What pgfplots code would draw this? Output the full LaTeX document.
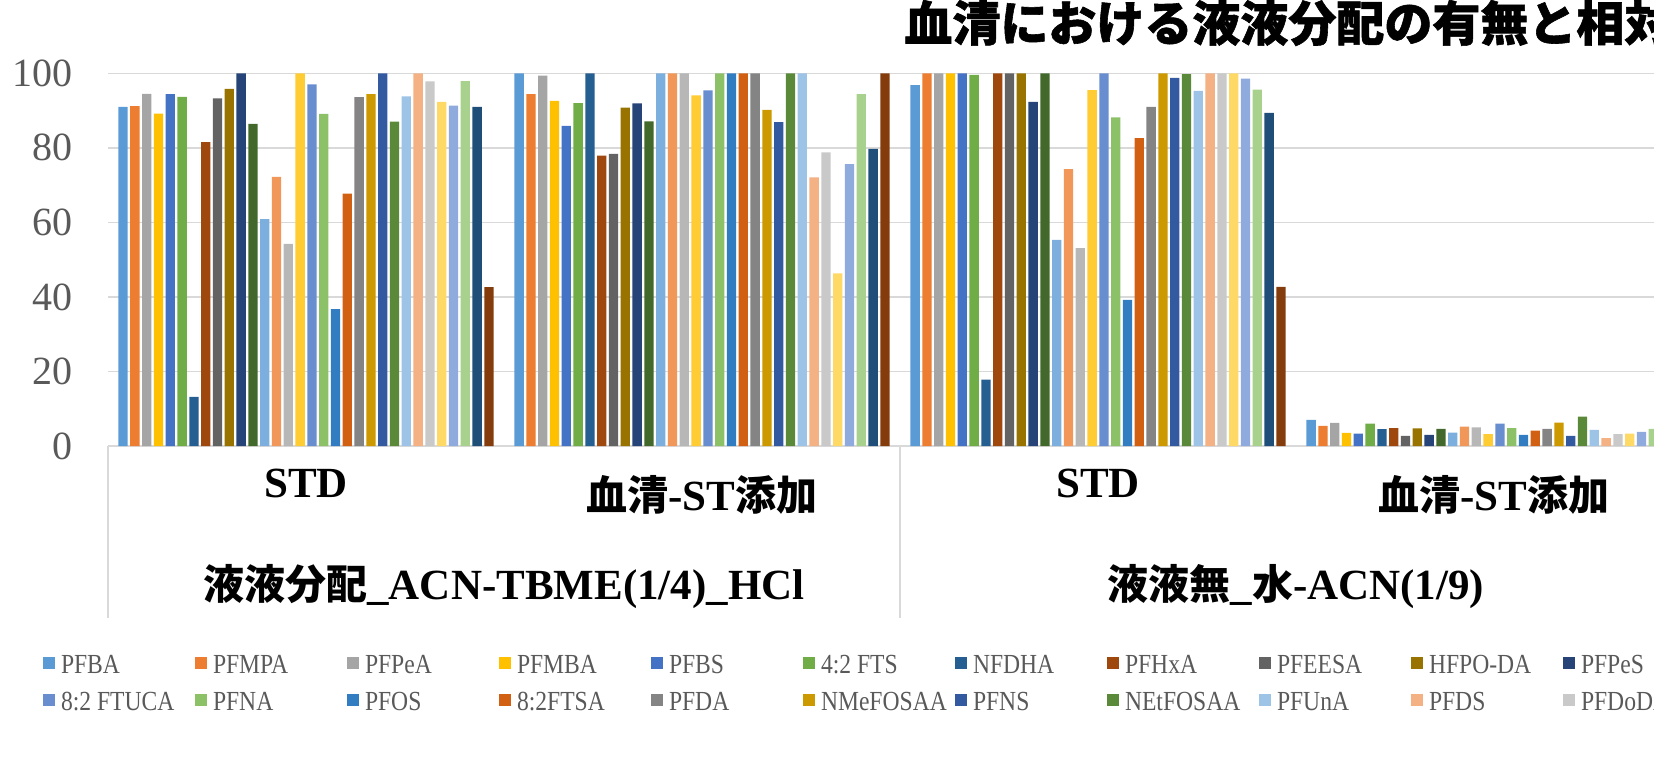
\documentclass[border=0pt]{standalone}
\usepackage{fontspec}
\setmainfont{Liberation Serif}
\newfontfamily\cjk{Noto Sans CJK JP}
\newfontfamily\cjktitle{Noto Sans CJK JP}[BoldFeatures={FakeBold=1.2}]
\newfontfamily\legfont{Liberation Serif}[FakeStretch=0.855]
\usepackage{pgfplots}
\pgfplotsset{compat=1.18}

\definecolor{c1}{HTML}{5B9BD5}\definecolor{c2}{HTML}{ED7D31}
\definecolor{c3}{HTML}{A5A5A5}\definecolor{c4}{HTML}{FFC000}
\definecolor{c5}{HTML}{4472C4}\definecolor{c6}{HTML}{70AD47}
\definecolor{c7}{HTML}{255E91}\definecolor{c8}{HTML}{9E480E}
\definecolor{c9}{HTML}{636363}\definecolor{c10}{HTML}{997300}
\definecolor{c11}{HTML}{264478}\definecolor{c12}{HTML}{43682B}
\definecolor{c13}{HTML}{7CAFDD}\definecolor{c14}{HTML}{F1975A}
\definecolor{c15}{HTML}{B7B7B7}\definecolor{c16}{HTML}{FFCD33}
\definecolor{c17}{HTML}{698ED0}\definecolor{c18}{HTML}{8CC168}
\definecolor{c19}{HTML}{327DC2}\definecolor{c20}{HTML}{D26012}
\definecolor{c21}{HTML}{848484}\definecolor{c22}{HTML}{CC9A00}
\definecolor{c23}{HTML}{335AA1}\definecolor{c24}{HTML}{5A8A39}
\definecolor{c25}{HTML}{9DC3E6}\definecolor{c26}{HTML}{F4B183}
\definecolor{c27}{HTML}{C9C9C9}\definecolor{c28}{HTML}{FFD966}
\definecolor{c29}{HTML}{8FAADC}\definecolor{c30}{HTML}{A9D18E}
\definecolor{c31}{HTML}{1F4E79}\definecolor{c32}{HTML}{843C0C}
\definecolor{axgray}{HTML}{D9D9D9}
\definecolor{txtgray}{HTML}{595959}

% japanese parts of the labels
\newcommand{\jp}[1]{{\fontsize{20.5bp}{24bp}\selectfont\cjk\bfseries #1}}
% fixed width legend cells
\newcommand{\lgc}[1]{\makebox[60bp][l]{#1}}

\begin{document}
\begin{tikzpicture}
\useasboundingbox (0,0) rectangle (827bp,382bp);
\clip (0,0) rectangle (827bp,382bp);

\node[anchor=west, inner sep=0pt, font=\fontsize{24bp}{28bp}\selectfont\cjktitle\bfseries]
  at (452bp,370.5bp) {血清における液液分配の有無と相対回収率};

\begin{axis}[
    at={(54bp,159bp)}, anchor=south west,
    scale only axis, width=792bp, height=186.35bp,
    ybar=1.25bp, bar width=4.65bp,
    xmin=-0.5, xmax=3.5, ymin=0, ymax=100,
    xtick={0,1,2,3},
    xticklabels={STD, \raisebox{-6.5bp}{\jp{血清}-ST\jp{添加}}, STD, \raisebox{-6.5bp}{\jp{血清}-ST\jp{添加}}},
    ytick={0,20,...,100},
    axis x line*=bottom, axis y line*=left,
    x axis line style={draw=axgray, line width=0.75bp, -},
    y axis line style={draw=none},
    ymajorgrids, major grid style={draw=axgray, line width=0.75bp},
    major tick length=0pt,
    extra x ticks={-0.5,1.5}, extra x tick labels={},
    extra x tick style={tick align=outside, major tick length=86bp,
        tick style={draw=axgray, line width=0.75bp}, grid=none},
    /pgf/number format/assume math mode=true,
    yticklabel style={anchor=east, inner sep=0pt, xshift=-17.5bp,
        font=\fontsize{20bp}{24bp}\selectfont, text=txtgray},
    xticklabel style={anchor=base, inner sep=0pt, yshift=-25.5bp,
        font=\bfseries\fontsize{21.5bp}{24bp}\selectfont, text=black},
    every axis plot/.append style={draw=none},
    legend image code/.code={\draw[#1, draw=none] (0bp,-3bp) rectangle (6bp,3bp);},
    legend columns=16,
    legend style={at={(-0.041035,-0.53126)}, anchor=north west,
        draw=none, fill=none, inner sep=0pt, outer sep=0pt,
        column sep=0pt, row sep=0pt,
        /tikz/every even column/.append style={column sep=4bp},
        cells={anchor=west},
        nodes={inner xsep=3bp, inner ysep=0pt, text height=14.65bp, text depth=3.85bp,
            font=\legfont\fontsize{13.8bp}{16bp}\selectfont, text=txtgray}},
    clip=false,
]
\addplot[fill=c1]  coordinates {(0,91.0) (1,100)  (2,96.8) (3,7.0)};
\addplot[fill=c2]  coordinates {(0,91.2) (1,94.4) (2,100)  (3,5.4)};
\addplot[fill=c3]  coordinates {(0,94.5) (1,99.4) (2,100)  (3,6.2)};
\addplot[fill=c4]  coordinates {(0,89.2) (1,92.6) (2,100)  (3,3.5)};
\addplot[fill=c5]  coordinates {(0,94.4) (1,85.9) (2,100)  (3,3.3)};
\addplot[fill=c6]  coordinates {(0,93.7) (1,92.0) (2,99.6) (3,6.0)};
\addplot[fill=c7]  coordinates {(0,13.2) (1,100)  (2,17.8) (3,4.5)};
\addplot[fill=c8]  coordinates {(0,81.5) (1,77.9) (2,100)  (3,4.8)};
\addplot[fill=c9]  coordinates {(0,93.3) (1,78.4) (2,100)  (3,2.7)};
\addplot[fill=c10] coordinates {(0,95.8) (1,90.8) (2,100)  (3,4.7)};
\addplot[fill=c11] coordinates {(0,100)  (1,91.9) (2,92.3) (3,3.0)};
\addplot[fill=c12] coordinates {(0,86.4) (1,87.1) (2,100)  (3,4.6)};
\addplot[fill=c13] coordinates {(0,60.9) (1,100)  (2,55.3) (3,3.6)};
\addplot[fill=c14] coordinates {(0,72.2) (1,100)  (2,74.3) (3,5.2)};
\addplot[fill=c15] coordinates {(0,54.2) (1,100)  (2,53.1) (3,5.0)};
\addplot[fill=c16] coordinates {(0,100)  (1,94.1) (2,95.5) (3,3.2)};
\addplot[fill=c17] coordinates {(0,97.0) (1,95.4) (2,100)  (3,6.0)};
\addplot[fill=c18] coordinates {(0,89.1) (1,100)  (2,88.2) (3,4.8)};
\addplot[fill=c19] coordinates {(0,36.7) (1,100)  (2,39.2) (3,3.0)};
\addplot[fill=c20] coordinates {(0,67.7) (1,100)  (2,82.6) (3,4.1)};
\addplot[fill=c21] coordinates {(0,93.6) (1,100)  (2,91.0) (3,4.6)};
\addplot[fill=c22] coordinates {(0,94.4) (1,90.2) (2,100)  (3,6.3)};
\addplot[fill=c23] coordinates {(0,100)  (1,86.9) (2,98.8) (3,2.7)};
\addplot[fill=c24] coordinates {(0,87.0) (1,100)  (2,99.8) (3,7.9)};
\addplot[fill=c25] coordinates {(0,93.8) (1,100)  (2,95.3) (3,4.3)};
\addplot[fill=c26] coordinates {(0,100)  (1,72.1) (2,100)  (3,2.1)};
\addplot[fill=c27] coordinates {(0,97.8) (1,78.8) (2,100)  (3,3.2)};
\addplot[fill=c28] coordinates {(0,92.3) (1,46.3) (2,100)  (3,3.3)};
\addplot[fill=c29] coordinates {(0,91.3) (1,75.6) (2,98.6) (3,3.8)};
\addplot[fill=c30] coordinates {(0,97.9) (1,94.4) (2,95.6) (3,4.6)};
\addplot[fill=c31] coordinates {(0,91.0) (1,79.7) (2,89.4) (3,4.0)};
\addplot[fill=c32] coordinates {(0,42.6) (1,100)  (2,42.7) (3,4.0)};
\legend{\lgc{PFBA}, \lgc{PFMPA}, \lgc{PFPeA}, \lgc{PFMBA}, \lgc{PFBS}, \lgc{4:2 FTS},
  \lgc{NFDHA}, \lgc{PFHxA}, \lgc{PFEESA}, \lgc{HFPO-DA}, \lgc{PFPeS},
  \lgc{}, \lgc{}, \lgc{}, \lgc{}, \lgc{},
  \lgc{8:2 FTUCA}, \lgc{PFNA}, \lgc{PFOS}, \lgc{8:2FTSA}, \lgc{PFDA}, \lgc{NMeFOSAA},
  \lgc{PFNS}, \lgc{NEtFOSAA}, \lgc{PFUnA}, \lgc{PFDS}, \lgc{PFDoDA},
  \lgc{}, \lgc{}, \lgc{}, \lgc{}, \lgc{}}

\node[anchor=base, inner sep=0pt, font=\bfseries\fontsize{21.5bp}{24bp}\selectfont]
  at (axis cs:0.5,-41.3) {\jp{液液分配}\_ACN-TBME(1/4)\_HCl};
\node[anchor=base, inner sep=0pt, font=\bfseries\fontsize{21.5bp}{24bp}\selectfont]
  at (axis cs:2.5,-41.3) {\jp{液液無}\_\jp{水}-ACN(1/9)};
\end{axis}
\end{tikzpicture}
\end{document}
